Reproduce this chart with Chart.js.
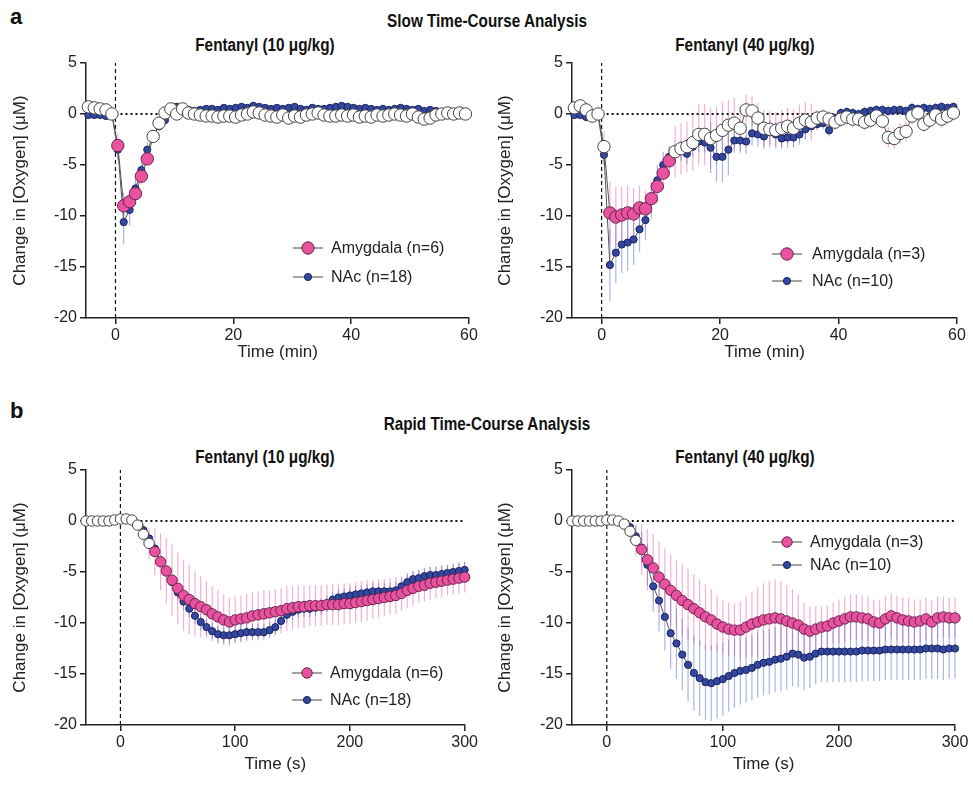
<!DOCTYPE html>
<html>
<head>
<meta charset="utf-8">
<script src="https://cdn.jsdelivr.net/npm/chart.js@4.4.1/dist/chart.umd.min.js"></script>
<style>
  body { margin: 0; background: #fff; width: 973px; height: 785px; position: relative; overflow: hidden; }
  canvas { position: absolute; }
  .tag  { position: absolute; font: bold 22px/26px 'Liberation Sans', Arial, sans-serif; color: #111; }
  .head { position: absolute; width: 320px; text-align: center; color: #111; white-space: nowrap;
          font: bold 18px/22px 'Liberation Sans', Arial, sans-serif;
          transform: scaleX(0.85); transform-origin: center; }
</style>
</head>
<body>
<div class="tag"  style="left:10px;top:4px">a</div>
<div class="head" style="left:327px;top:10px">Slow Time-Course Analysis</div>
<div class="head" style="left:105px;top:34px">Fentanyl (10 μg/kg)</div>
<div class="head" style="left:585px;top:34px">Fentanyl (40 μg/kg)</div>
<div class="tag"  style="left:10px;top:398px">b</div>
<div class="head" style="left:327px;top:413px">Rapid Time-Course Analysis</div>
<div class="head" style="left:105px;top:446px">Fentanyl (10 μg/kg)</div>
<div class="head" style="left:585px;top:446px">Fentanyl (40 μg/kg)</div>

<canvas id="slow10"  width="480" height="342" style="left:0;top:33px"></canvas>
<canvas id="slow40"  width="486" height="342" style="left:487px;top:33px"></canvas>
<canvas id="rapid10" width="480" height="339" style="left:0;top:446px"></canvas>
<canvas id="rapid40" width="486" height="339" style="left:487px;top:446px"></canvas>

<script>
/* ── الزمن (دقائق / ثوان) ── */
const slowTime = [
  -4.6, -3.6, -2.6, -1.6, -0.6, 0.4, 1.4, 2.4, 3.4, 4.4,
  5.4, 6.4, 7.4, 8.4, 9.4, 10.4, 11.4, 12.4, 13.4, 14.4,
  15.4, 16.4, 17.4, 18.4, 19.4, 20.4, 21.4, 22.4, 23.4, 24.4,
  25.4, 26.4, 27.4, 28.4, 29.4, 30.4, 31.4, 32.4, 33.4, 34.4,
  35.4, 36.4, 37.4, 38.4, 39.4, 40.4, 41.4, 42.4, 43.4, 44.4,
  45.4, 46.4, 47.4, 48.4, 49.4, 50.4, 51.4, 52.4, 53.4, 54.4,
  55.4, 56.4, 57.4, 58.4, 59.4,
];
const rapidTime = [
  -30, -25, -20, -15, -10, -5, 0, 5, 10, 15,
  20, 25, 30, 35, 40, 45, 50, 55, 60, 65,
  70, 75, 80, 85, 90, 95, 100, 105, 110, 115,
  120, 125, 130, 135, 140, 145, 150, 155, 160, 165,
  170, 175, 180, 185, 190, 195, 200, 205, 210, 215,
  220, 225, 230, 235, 240, 245, 250, 255, 260, 265,
  270, 275, 280, 285, 290, 295, 300,
];
const slowXTicks  = [0, 20, 40, 60];
const rapidXTicks = [0, 100, 200, 300];
const yTicks      = [-20, -15, -10, -5, 0, 5];

/* ── Fentanyl 10 — slow ── */
const slow10Amy = [
  0.7, 0.6, 0.5, 0.4, 0.0, -3.1, -9.0, -8.6, -7.8, -6.1,
  -4.4, -2.2, -0.9, 0.1, 0.5, 0.0, 0.5, 0.1, 0.0, -0.1,
  -0.2, -0.2, -0.3, -0.2, -0.2, -0.3, -0.1, 0.0, 0.2, 0.1,
  -0.1, -0.2, -0.3, -0.1, -0.4, -0.2, -0.3, -0.1, 0.0, 0.1,
  -0.1, -0.2, -0.2, -0.1, -0.2, -0.1, -0.3, -0.2, -0.3, -0.1,
  -0.2, -0.1, 0.0, -0.1, -0.2, 0.0, -0.3, -0.5, -0.4, -0.1,
  0.0, 0.1, 0.0, 0.1, 0.0,
];
const slow10AmyErr = [
  0.3, 0.3, 0.3, 0.3, 0.3, 1.2, 1.3, 1.2, 1.0, 0.8,
  0.6, 0.5, 0.5, 0.4, 0.6, 0.4, 0.3, 0.3, 0.3, 0.3,
  0.3, 0.3, 0.3, 0.3, 0.3, 0.3, 0.3, 0.3, 0.3, 0.3,
  0.3, 0.3, 0.3, 0.3, 0.3, 0.3, 0.3, 0.3, 0.3, 0.3,
  0.3, 0.3, 0.3, 0.3, 0.3, 0.3, 0.3, 0.3, 0.3, 0.3,
  0.3, 0.3, 0.3, 0.3, 0.3, 0.3, 0.3, 0.3, 0.3, 0.3,
  0.3, 0.3, 0.3, 0.3, 0.3,
];
const slow10NAc = [
  -0.1, -0.1, -0.1, -0.2, -0.1, -3.5, -10.6, -9.4, -7.3, -5.5,
  -3.5, -2.2, -1.2, -0.6, 0.3, 0.7, 0.5, 0.4, 0.3, 0.4,
  0.5, 0.5, 0.4, 0.6, 0.5, 0.6, 0.7, 0.6, 0.8, 0.7,
  0.6, 0.5, 0.6, 0.5, 0.6, 0.7, 0.5, 0.4, 0.6, 0.5,
  0.5, 0.6, 0.7, 0.8, 0.7, 0.6, 0.5, 0.6, 0.5, 0.4,
  0.5, 0.4, 0.5, 0.6, 0.5, 0.4, 0.5, 0.3, 0.4, 0.3,
];
const slow10NAcErr = [
  0.3, 0.3, 0.3, 0.3, 0.3, 1.0, 2.2, 1.5, 1.2, 1.0,
  0.8, 0.6, 0.5, 0.5, 0.5, 0.4, 0.3, 0.3, 0.3, 0.3,
  0.3, 0.3, 0.3, 0.3, 0.3, 0.3, 0.3, 0.3, 0.3, 0.3,
  0.3, 0.3, 0.3, 0.3, 0.3, 0.3, 0.3, 0.3, 0.3, 0.3,
  0.3, 0.3, 0.3, 0.3, 0.3, 0.3, 0.3, 0.3, 0.3, 0.3,
  0.3, 0.3, 0.3, 0.3, 0.3, 0.3, 0.3, 0.3, 0.3, 0.3,
];

/* ── Fentanyl 40 — slow ── */
const slow40Amy = [
  0.6, 0.8, 0.4, -0.2, 0.0, -3.2, -9.7, -10.1, -9.9, -9.7,
  -9.8, -9.2, -9.3, -8.3, -7.1, -5.8, -4.6, -3.7, -3.4, -3.2,
  -2.8, -2.0, -2.0, -2.4, -2.1, -1.6, -1.1, -0.9, -1.4, 0.4,
  0.3, -0.4, -1.4, -1.5, -1.6, -1.4, -1.2, -1.4, -0.9, -0.6,
  -0.8, -0.4, -0.3, -0.5, -0.8, -0.5, -0.3, -0.5, -0.5, -0.8,
  -0.6, -0.2, -0.7, -2.3, -2.4, -1.9, -1.7, -0.2, 0.1, -1.0,
  -0.6, -0.1, -0.5, -0.2, 0.1,
];
const slow40AmyErr = [
  0.5, 0.5, 0.5, 0.5, 0.5, 1.5, 3.0, 3.0, 2.8, 2.7,
  2.5, 2.2, 1.8, 1.5, 1.5, 1.5, 1.5, 2.5, 2.5, 2.5,
  2.8, 3.0, 3.0, 3.0, 2.8, 2.8, 2.5, 2.5, 2.2, 1.5,
  1.5, 1.5, 1.8, 1.8, 1.8, 1.8, 1.8, 1.8, 1.8, 1.8,
  1.8, 0.8, 0.8, 0.8, 0.8, 0.8, 0.8, 0.8, 0.8, 0.8,
  0.8, 0.8, 0.8, 1.0, 1.0, 1.0, 1.0, 0.8, 0.8, 0.8,
  0.8, 0.8, 0.8, 0.8, 0.8,
];
const slow40NAc = [
  -0.1, -0.1, -0.3, -0.2, -0.1, -4.0, -14.8, -13.6, -12.8, -12.6,
  -12.3, -11.3, -10.4, -8.5, -6.5, -5.0, -4.2, -3.9, -3.6, -3.9,
  -3.2, -2.7, -2.8, -3.3, -4.2, -4.2, -3.5, -2.6, -2.6, -2.7,
  -1.9, -2.0, -2.2, -1.8, -2.0, -2.4, -2.3, -2.3, -2.0, -1.5,
  -1.2, -1.0, -0.9, -1.6, -0.4, 0.1, 0.2, 0.1, 0.0, 0.2,
  0.3, 0.4, 0.4, 0.3, 0.4, 0.4, 0.3, 0.6, 0.5, 0.6,
  0.5, 0.6, 0.7, 0.6, 0.7,
];
const slow40NAcErr = [
  0.4, 0.4, 0.4, 0.4, 0.4, 1.0, 3.5, 3.0, 2.8, 2.8,
  2.5, 2.2, 2.0, 1.8, 1.5, 1.3, 1.0, 1.0, 1.0, 1.0,
  1.0, 1.0, 1.0, 2.5, 2.5, 2.5, 2.5, 1.2, 1.2, 1.2,
  1.2, 1.2, 1.2, 1.2, 1.2, 1.0, 1.0, 1.0, 1.0, 1.0,
  0.6, 0.6, 0.6, 0.6, 0.5, 0.5, 0.5, 0.5, 0.5, 0.5,
  0.5, 0.5, 0.5, 0.5, 0.5, 0.5, 0.5, 0.5, 0.5, 0.5,
  0.5, 0.5, 0.5, 0.5, 0.5,
];

/* ── Fentanyl 10 — rapid ── */
const rapid10Amy = [
  0.0, 0.0, 0.0, 0.0, 0.0, 0.1, 0.2, 0.2, 0.1, -0.4,
  -1.3, -2.2, -3.0, -4.0, -4.9, -5.8, -6.6, -7.3, -7.7, -8.1,
  -8.4, -8.7, -9.1, -9.4, -9.7, -9.9, -9.7, -9.6, -9.5, -9.3,
  -9.2, -9.1, -9.0, -8.9, -8.8, -8.6, -8.5, -8.4, -8.4, -8.3,
  -8.3, -8.3, -8.2, -8.2, -8.2, -8.1, -8.1, -8.0, -7.9, -7.8,
  -7.7, -7.6, -7.5, -7.4, -7.3, -7.1, -6.8, -6.6, -6.4, -6.3,
  -6.1, -6.0, -5.9, -5.8, -5.7, -5.6, -5.5,
];
const rapid10AmyErr = [
  0.2, 0.2, 0.2, 0.2, 0.2, 0.2, 0.2, 0.2, 0.3, 0.5,
  1.0, 1.5, 2.3, 2.8, 3.2, 3.5, 3.5, 3.5, 3.4, 3.2,
  3.0, 2.8, 2.7, 2.6, 2.5, 2.4, 2.3, 2.3, 2.3, 2.3,
  2.3, 2.3, 2.2, 2.2, 2.2, 2.2, 2.1, 2.1, 2.1, 2.0,
  2.0, 2.0, 2.0, 2.0, 2.0, 2.0, 2.0, 2.0, 2.0, 2.0,
  1.9, 1.9, 1.8, 1.8, 1.8, 1.7, 1.7, 1.7, 1.6, 1.6,
  1.6, 1.6, 1.6, 1.5, 1.5, 1.5, 1.5,
];
const rapid10NAc = [
  0.0, 0.0, 0.0, 0.0, 0.0, 0.0, 0.1, 0.1, 0.0, -0.3,
  -0.9, -1.7, -2.7, -3.9, -5.0, -6.0, -7.0, -7.9, -8.6, -9.3,
  -9.9, -10.4, -10.8, -11.1, -11.2, -11.2, -11.1, -11.0, -10.9, -10.9,
  -10.9, -10.9, -10.7, -10.4, -9.8, -9.2, -8.9, -8.7, -8.6, -8.6,
  -8.5, -8.4, -8.1, -7.7, -7.5, -7.4, -7.3, -7.2, -7.1, -7.0,
  -6.9, -6.9, -6.9, -6.9, -6.8, -6.4, -6.0, -5.7, -5.6, -5.4,
  -5.3, -5.3, -5.2, -5.1, -5.0, -4.9, -4.8,
];
const rapid10NAcErr = [
  0.1, 0.1, 0.1, 0.1, 0.1, 0.1, 0.1, 0.1, 0.1, 0.2,
  0.3, 0.4, 0.5, 0.6, 0.7, 0.8, 0.8, 0.8, 0.8, 0.8,
  0.8, 0.8, 0.8, 0.8, 0.8, 0.8, 0.8, 0.8, 0.8, 0.8,
  0.8, 0.8, 0.8, 0.8, 0.8, 0.8, 0.8, 0.8, 0.8, 0.8,
  0.8, 0.8, 0.8, 0.8, 0.8, 0.8, 0.8, 0.8, 0.8, 0.8,
  0.8, 0.8, 0.8, 0.8, 0.8, 0.8, 0.8, 0.8, 0.8, 0.8,
  0.8, 0.8, 0.8, 0.8, 0.8, 0.8, 0.8,
];

/* ── Fentanyl 40 — rapid ── */
const rapid40Amy = [
  0.0, 0.0, 0.0, 0.0, 0.0, 0.0, 0.1, 0.1, 0.0, -0.3,
  -1.0, -1.9, -2.8, -3.8, -4.6, -5.5, -6.2, -6.8, -7.3, -7.8,
  -8.2, -8.6, -9.0, -9.4, -9.7, -10.1, -10.4, -10.6, -10.7, -10.7,
  -10.4, -10.1, -9.9, -9.7, -9.6, -9.5, -9.6, -9.8, -10.0, -10.2,
  -10.6, -10.8, -10.6, -10.4, -10.3, -10.0, -9.8, -9.6, -9.4, -9.4,
  -9.5, -9.6, -9.9, -10.0, -9.6, -9.3, -9.5, -9.7, -9.8, -9.9,
  -9.8, -9.6, -9.9, -9.5, -9.4, -9.5, -9.5,
];
const rapid40AmyErr = [
  0.2, 0.2, 0.2, 0.2, 0.2, 0.2, 0.2, 0.2, 0.3, 0.5,
  1.0, 1.5, 2.5, 3.0, 3.3, 3.5, 3.5, 3.5, 3.5, 3.5,
  3.5, 3.4, 3.3, 3.2, 3.0, 2.8, 2.6, 2.6, 2.6, 2.8,
  3.0, 3.2, 3.4, 3.6, 3.7, 3.8, 3.7, 3.5, 3.3, 3.0,
  2.6, 2.4, 2.2, 2.0, 2.0, 2.0, 2.1, 2.2, 2.2, 2.2,
  2.2, 2.2, 2.2, 2.2, 2.2, 2.2, 2.2, 2.2, 2.2, 2.2,
  2.1, 2.1, 2.1, 2.1, 2.0, 2.0, 2.0,
];
const rapid40NAc = [
  0.0, 0.0, 0.0, 0.0, 0.0, 0.0, 0.0, 0.0, 0.0, -0.2,
  -0.6, -1.5, -2.6, -4.3, -6.4, -7.8, -9.4, -11.0, -12.0, -13.1,
  -14.1, -14.9, -15.4, -15.8, -15.9, -15.7, -15.5, -15.2, -14.9, -14.7,
  -14.6, -14.4, -14.1, -13.9, -13.8, -13.6, -13.5, -13.3, -13.0, -13.1,
  -13.4, -13.3, -13.0, -12.8, -12.8, -12.8, -12.8, -12.8, -12.8, -12.8,
  -12.7, -12.7, -12.7, -12.7, -12.6, -12.6, -12.6, -12.6, -12.6, -12.6,
  -12.6, -12.5, -12.5, -12.5, -12.6, -12.5, -12.5,
];
const rapid40NAcErr = [
  0.1, 0.1, 0.1, 0.1, 0.1, 0.1, 0.1, 0.1, 0.1, 0.2,
  0.5, 1.0, 1.5, 2.0, 2.5, 3.0, 3.3, 3.5, 3.5, 3.5,
  3.6, 3.7, 3.7, 3.7, 3.7, 3.7, 3.6, 3.5, 3.4, 3.3,
  3.2, 3.2, 3.2, 3.2, 3.2, 3.2, 3.2, 3.2, 3.2, 3.2,
  3.2, 3.1, 3.0, 3.0, 3.0, 3.0, 3.0, 3.0, 3.0, 3.0,
  3.0, 3.0, 3.0, 3.0, 3.0, 3.0, 3.0, 3.0, 3.0, 3.0,
  3.0, 3.0, 3.0, 3.0, 3.0, 3.0, 3.0,
];

/* فترة النقاط الملوّنة (الباقي دوائر بيضاء) */
const slow10AmyFilled  = [0.4, 5.4];
const slow40AmyFilled  = [1.4, 11.4];
const rapid10AmyFilled = [30, 300];
const rapid40AmyFilled = [30, 300];

/* ── الألوان والخطوط ── */
const PINK = '#e8529f', PINK_EDGE = '#6a2350', PINK_ERR = 'rgba(236,110,175,0.55)';
const BLUE = '#34479f', BLUE_EDGE = '#1a2360', BLUE_ERR = 'rgba(90,110,205,0.5)';
const OPEN = '#ffffff', OPEN_EDGE = '#444';
const SANS = "'Liberation Sans', Arial, sans-serif";

/* ─── أشرطة الخطأ ─────────────────────────────────────── */
const errorBars = {
  id: 'errorBars',
  beforeDatasetsDraw(chart) {
    const { ctx, scales: { x, y } } = chart;
    ctx.save();
    chart.data.datasets.forEach(ds => {
      if (!ds.errors) return;
      ctx.strokeStyle = ds.errorColor;
      ctx.lineWidth   = 1.2;
      ds.data.forEach((p, i) => {
        const e = ds.errors[i];
        if (!e) return;
        const px = x.getPixelForValue(p.x);
        ctx.beginPath();
        ctx.moveTo(px, y.getPixelForValue(p.y - e));
        ctx.lineTo(px, y.getPixelForValue(p.y + e));
        ctx.stroke();
      });
    });
    ctx.restore();
  },
};

/* ─── وسيلة الإيضاح داخل الرسم ────────────────────────── */
const insetLegend = {
  id: 'insetLegend',
  afterDatasetsDraw(chart, args, opts) {
    const { ctx, chartArea: a } = chart;
    const x = a.left + opts.dx;
    let   y = a.top  + opts.dy;
    ctx.save();
    chart.data.datasets.forEach(ds => {
      if (!ds.legendText) return;
      ctx.strokeStyle = '#666';
      ctx.lineWidth   = 1.2;
      ctx.beginPath(); ctx.moveTo(x - 15, y); ctx.lineTo(x + 15, y); ctx.stroke();
      ctx.beginPath(); ctx.arc(x, y, ds.legendRadius, 0, Math.PI * 2);
      ctx.fillStyle   = ds.legendFill; ctx.fill();
      ctx.strokeStyle = ds.legendEdge; ctx.lineWidth = 1; ctx.stroke();
      ctx.fillStyle    = '#222';
      ctx.font         = `16px ${SANS}`;
      ctx.textBaseline = 'middle';
      ctx.fillText(ds.legendText, x + opts.textGap, y + 1);
      y += opts.gap;
    });
    ctx.restore();
  },
};

function pts(time, vals) {
  return vals.map((v, i) => ({ x: time[i], y: v }));
}

function buildPanel(id, p) {
  const amyPts = pts(p.time, p.amy);
  const isFilled = t => t >= p.filled[0] && t <= p.filled[1];
  const xMin = p.xRange[0], xMax = p.xRange[1];

  new Chart(document.getElementById(id), {
    type: 'line',
    data: {
      datasets: [
        {
          data: amyPts,
          errors: p.amyErr, errorColor: PINK_ERR,
          borderColor: '#555', borderWidth: 1,
          pointRadius: p.amyR,
          pointBackgroundColor: amyPts.map(q => isFilled(q.x) ? PINK : OPEN),
          pointBorderColor:     amyPts.map(q => isFilled(q.x) ? PINK_EDGE : OPEN_EDGE),
          pointBorderWidth: 1,
          legendText: p.amyLabel, legendFill: PINK, legendEdge: PINK_EDGE, legendRadius: p.amyR,
          order: 1, clip: 10,
        },
        {
          data: pts(p.time, p.nac),
          errors: p.nacErr, errorColor: BLUE_ERR,
          borderColor: '#555', borderWidth: 1,
          pointRadius: p.nacR,
          pointBackgroundColor: BLUE, pointBorderColor: BLUE_EDGE, pointBorderWidth: 1,
          legendText: p.nacLabel, legendFill: BLUE, legendEdge: BLUE_EDGE, legendRadius: p.nacR,
          order: 2, clip: 10,
        },
        { /* خط الصفر */
          data: [{ x: 0, y: 0 }, { x: xMax, y: 0 }],
          borderColor: '#111', borderWidth: 2, borderDash: [2, 3], pointRadius: 0, order: 3,
        },
        { /* لحظة الحقن */
          data: [{ x: 0, y: yTicks[0] }, { x: 0, y: yTicks[yTicks.length - 1] }],
          borderColor: '#111', borderWidth: 1.2, borderDash: [4, 3], pointRadius: 0, order: 3,
        },
      ],
    },
    options: {
      responsive: false,
      animation : false,
      layout: { padding: { left: 0, right: p.padRight, top: p.padTop, bottom: 0 } },
      plugins: {
        legend : { display: false },
        tooltip: { enabled: false },
        title  : { display: false },
        insetLegend: p.legend,
      },
      scales: {
        x: {
          type: 'linear', min: xMin, max: xMax,
          afterBuildTicks: s => { s.ticks = p.xTicks.map(v => ({ value: v })); },
          afterFit: s => { s.height = p.xAxisH; },
          ticks : { color: '#222', font: { family: SANS, size: 16 }, padding: 2 },
          grid  : { drawOnChartArea: false, drawTicks: true, tickLength: 6, color: '#222', lineWidth: 1.5 },
          border: { color: '#222', width: 1.5 },
          title : { display: true, text: p.xTitle, color: '#222',
                    font: { family: SANS, size: 17 }, padding: { top: 0, bottom: p.xTitlePad } },
        },
        y: {
          min: yTicks[0], max: yTicks[yTicks.length - 1],
          afterBuildTicks: s => { s.ticks = yTicks.map(v => ({ value: v })); },
          afterFit: s => { s.width = p.yAxisW; },
          ticks : { color: '#222', font: { family: SANS, size: 16 }, padding: 3 },
          grid  : { drawOnChartArea: false, drawTicks: true, tickLength: 6, color: '#222', lineWidth: 1.5 },
          border: { color: '#222', width: 1.5 },
          title : { display: true, text: 'Change in [Oxygen] (μM)', color: '#222',
                    font: { family: SANS, size: 17 }, padding: { top: p.yTitlePad, bottom: 0 } },
        },
      },
    },
    plugins: [errorBars, insetLegend],
  });
}

buildPanel('slow10', {
  time: slowTime, amy: slow10Amy, amyErr: slow10AmyErr, nac: slow10NAc, nacErr: slow10NAcErr,
  filled: slow10AmyFilled, xRange: [-5, 60], xTicks: slowXTicks, xTitle: 'Time (min)',
  amyLabel: 'Amygdala (n=6)', nacLabel: 'NAc (n=18)', amyR: 6.2, nacR: 3.6,
  padTop: 30, padRight: 11, yAxisW: 86, xAxisH: 57, xTitlePad: 12.8, yTitlePad: 10,
  legend: { dx: 222, dy: 185, gap: 29, textGap: 23 },
});
buildPanel('slow40', {
  time: slowTime, amy: slow40Amy, amyErr: slow40AmyErr, nac: slow40NAc, nacErr: slow40NAcErr,
  filled: slow40AmyFilled, xRange: [-5, 60], xTicks: slowXTicks, xTitle: 'Time (min)',
  amyLabel: 'Amygdala (n=3)', nacLabel: 'NAc (n=10)', amyR: 6.2, nacR: 3.6,
  padTop: 30, padRight: 16, yAxisW: 85, xAxisH: 57, xTitlePad: 12.8, yTitlePad: 8,
  legend: { dx: 215, dy: 191, gap: 27, textGap: 25 },
});
buildPanel('rapid10', {
  time: rapidTime, amy: rapid10Amy, amyErr: rapid10AmyErr, nac: rapid10NAc, nacErr: rapid10NAcErr,
  filled: rapid10AmyFilled, xRange: [-30, 300], xTicks: rapidXTicks, xTitle: 'Time (s)',
  amyLabel: 'Amygdala (n=6)', nacLabel: 'NAc (n=18)', amyR: 5.2, nacR: 3.6,
  padTop: 24, padRight: 11, yAxisW: 86, xAxisH: 60, xTitlePad: 10, yTitlePad: 10,
  legend: { dx: 221, dy: 203, gap: 27, textGap: 23 },
});
buildPanel('rapid40', {
  time: rapidTime, amy: rapid40Amy, amyErr: rapid40AmyErr, nac: rapid40NAc, nacErr: rapid40NAcErr,
  filled: rapid40AmyFilled, xRange: [-30, 300], xTicks: rapidXTicks, xTitle: 'Time (s)',
  amyLabel: 'Amygdala (n=3)', nacLabel: 'NAc (n=10)', amyR: 5.2, nacR: 3.6,
  padTop: 24, padRight: 18, yAxisW: 85, xAxisH: 60, xTitlePad: 10, yTitlePad: 8,
  legend: { dx: 215, dy: 72, gap: 23, textGap: 23 },
});
</script>
</body>
</html>
